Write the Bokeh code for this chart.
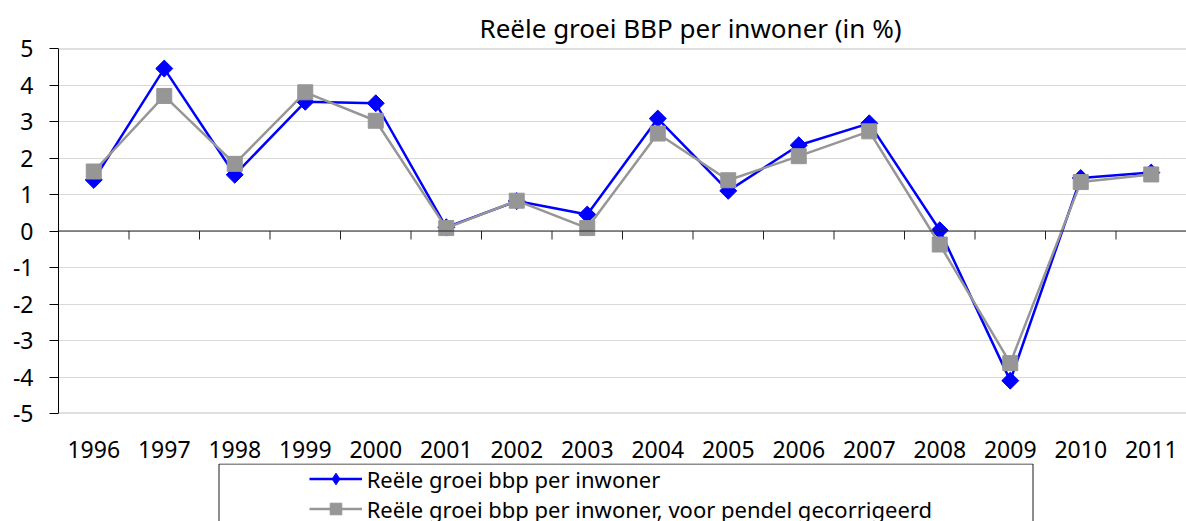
from bokeh.plotting import figure
from bokeh.layouts import column
from bokeh.models import (Range1d, FixedTicker, Span, Legend, LegendItem,
                          BoxAnnotation, ColumnDataSource, LinearAxis)
from bokeh.embed import file_html
from bokeh.resources import INLINE
import math

# ---- data ----
years = ["1996", "1997", "1998", "1999", "2000", "2001", "2002", "2003",
         "2004", "2005", "2006", "2007", "2008", "2009", "2010", "2011"]
bbp = [1.40, 4.45, 1.54, 3.54, 3.50, 0.10, 0.82, 0.45,
       3.08, 1.10, 2.35, 2.95, 0.02, -4.10, 1.45, 1.60]
bbp_pendel = [1.63, 3.70, 1.84, 3.80, 3.02, 0.08, 0.83, 0.08,
              2.67, 1.39, 2.05, 2.73, -0.37, -3.62, 1.34, 1.55]
y_ticks = [-5, -4, -3, -2, -1, 0, 1, 2, 3, 4, 5]
y_tick_labels = ["-5", "-4", "-3", "-2", "-1", "0", "1", "2", "3", "4", "5"]
title_text = "Reële groei BBP per inwoner (in %)"
label_a = "Reële groei bbp per inwoner"
label_b = "Reële groei bbp per inwoner, voor pendel gecorrigeerd"

FONT = "Noto Sans"
BLUE = "#0000ff"
GRAY = "#969696"
n = len(years)
xs = [i + 0.5 for i in range(n)]
src = ColumnDataSource(dict(x=xs, a=bbp, b=bbp_pendel))


def add_series(fig, key=False):
    la = fig.line("x", "a", source=src, line_color=BLUE, line_width=2.5)
    if key:
        ma = fig.scatter("x", "a", source=src, marker="diamond", size=17,
                         fill_color=BLUE, line_color=BLUE)
    else:
        ma = fig.scatter("x", "a", source=src, marker="square", size=12,
                         angle=math.pi / 4, fill_color=BLUE, line_color=BLUE)
    lb = fig.line("x", "b", source=src, line_color=GRAY, line_width=2.5)
    mb = fig.scatter("x", "b", source=src, marker="square", size=15,
                     fill_color=GRAY, line_color=GRAY)
    return la, ma, lb, mb


# ---------------- main chart ----------------
p = figure(width=1186, height=428, output_backend="svg", toolbar_location=None,
           x_range=Range1d(0, n), y_range=Range1d(-5, 5),
           min_border_left=58, min_border_right=0, min_border_top=48,
           min_border_bottom=15, x_axis_location=None)
p.outline_line_color = None
p.title.text = title_text
p.title.text_font = FONT
p.title.text_font_size = "26px"
p.title.text_font_style = "normal"
p.title.text_color = "black"
p.title.align = "left"
p.title.offset = 421
p.title.standoff = 6
p.xgrid.grid_line_color = None

p.yaxis.ticker = FixedTicker(ticks=y_ticks)
p.yaxis.major_label_overrides = {t: s for t, s in zip(y_ticks, y_tick_labels)}
p.yaxis.axis_line_color = "black"
p.yaxis.major_tick_line_color = "black"
p.yaxis.major_tick_out = 9
p.yaxis.major_tick_in = 0
p.yaxis.minor_tick_line_color = None
p.yaxis.major_label_standoff = 16
p.yaxis.major_label_text_font = FONT
p.yaxis.major_label_text_font_size = "23px"
p.yaxis.major_label_text_color = "black"
p.ygrid.grid_line_color = "#d9d9d9"
p.ygrid.grid_line_width = 1

p.add_layout(Span(location=5, dimension="width", line_color="#c0c0c0", line_width=2))
p.add_layout(Span(location=-5, dimension="width", line_color="#c0c0c0", line_width=2))
p.add_layout(Span(location=0, dimension="width", line_color="#222222", line_width=1))

bounds = list(range(1, n))
tick_len = 8.5 / 36.5
p.segment(x0=bounds, y0=[0] * len(bounds), x1=bounds, y1=[-tick_len] * len(bounds),
          line_color="#222222", line_width=1)

add_series(p)

# ---------------- year labels + legend ----------------
q = figure(width=1186, height=93, output_backend="svg", toolbar_location=None,
           x_range=Range1d(0, n), y_range=Range1d(100, 158),
           min_border_left=58, min_border_right=0, min_border_top=35,
           min_border_bottom=0, x_axis_location=None, y_axis_location=None)
q.outline_line_color = None
q.xgrid.grid_line_color = None
q.ygrid.grid_line_color = None

xax = LinearAxis(ticker=FixedTicker(ticks=xs),
                 major_label_overrides={x: y for x, y in zip(xs, years)},
                 axis_line_color=None, major_tick_line_color=None,
                 minor_tick_line_color=None, major_label_standoff=0,
                 major_label_text_font=FONT, major_label_text_font_size="23px",
                 major_label_text_color="black")
q.add_layout(xax, "above")

# legend entries (series lie outside this strip's y range, only their keys show)
ra_l, ra_m, rb_l, rb_m = add_series(q, key=True)

legend = Legend(items=[LegendItem(label=label_a, renderers=[ra_l, ra_m]),
                       LegendItem(label=label_b, renderers=[rb_l, rb_m])],
                location=(250.7, -2.5), orientation="vertical",
                padding=2, spacing=0, glyph_width=53, glyph_height=29,
                label_height=29, label_standoff=5, margin=0,
                label_text_font=FONT, label_text_font_size="22px",
                label_text_color="black", border_line_color=None,
                background_fill_alpha=0)
q.add_layout(legend, "center")
q.add_layout(BoxAnnotation(left=(218.5 - 58) / 70.5, right=(1032.5 - 58) / 70.5,
                           top=157.5, bottom=80,
                           fill_alpha=0, line_color="#1a1a1a", line_alpha=1.0,
                           line_width=1))

layout = column(p, q, spacing=0)
open("out.html", "w").write(file_html(layout, INLINE))
